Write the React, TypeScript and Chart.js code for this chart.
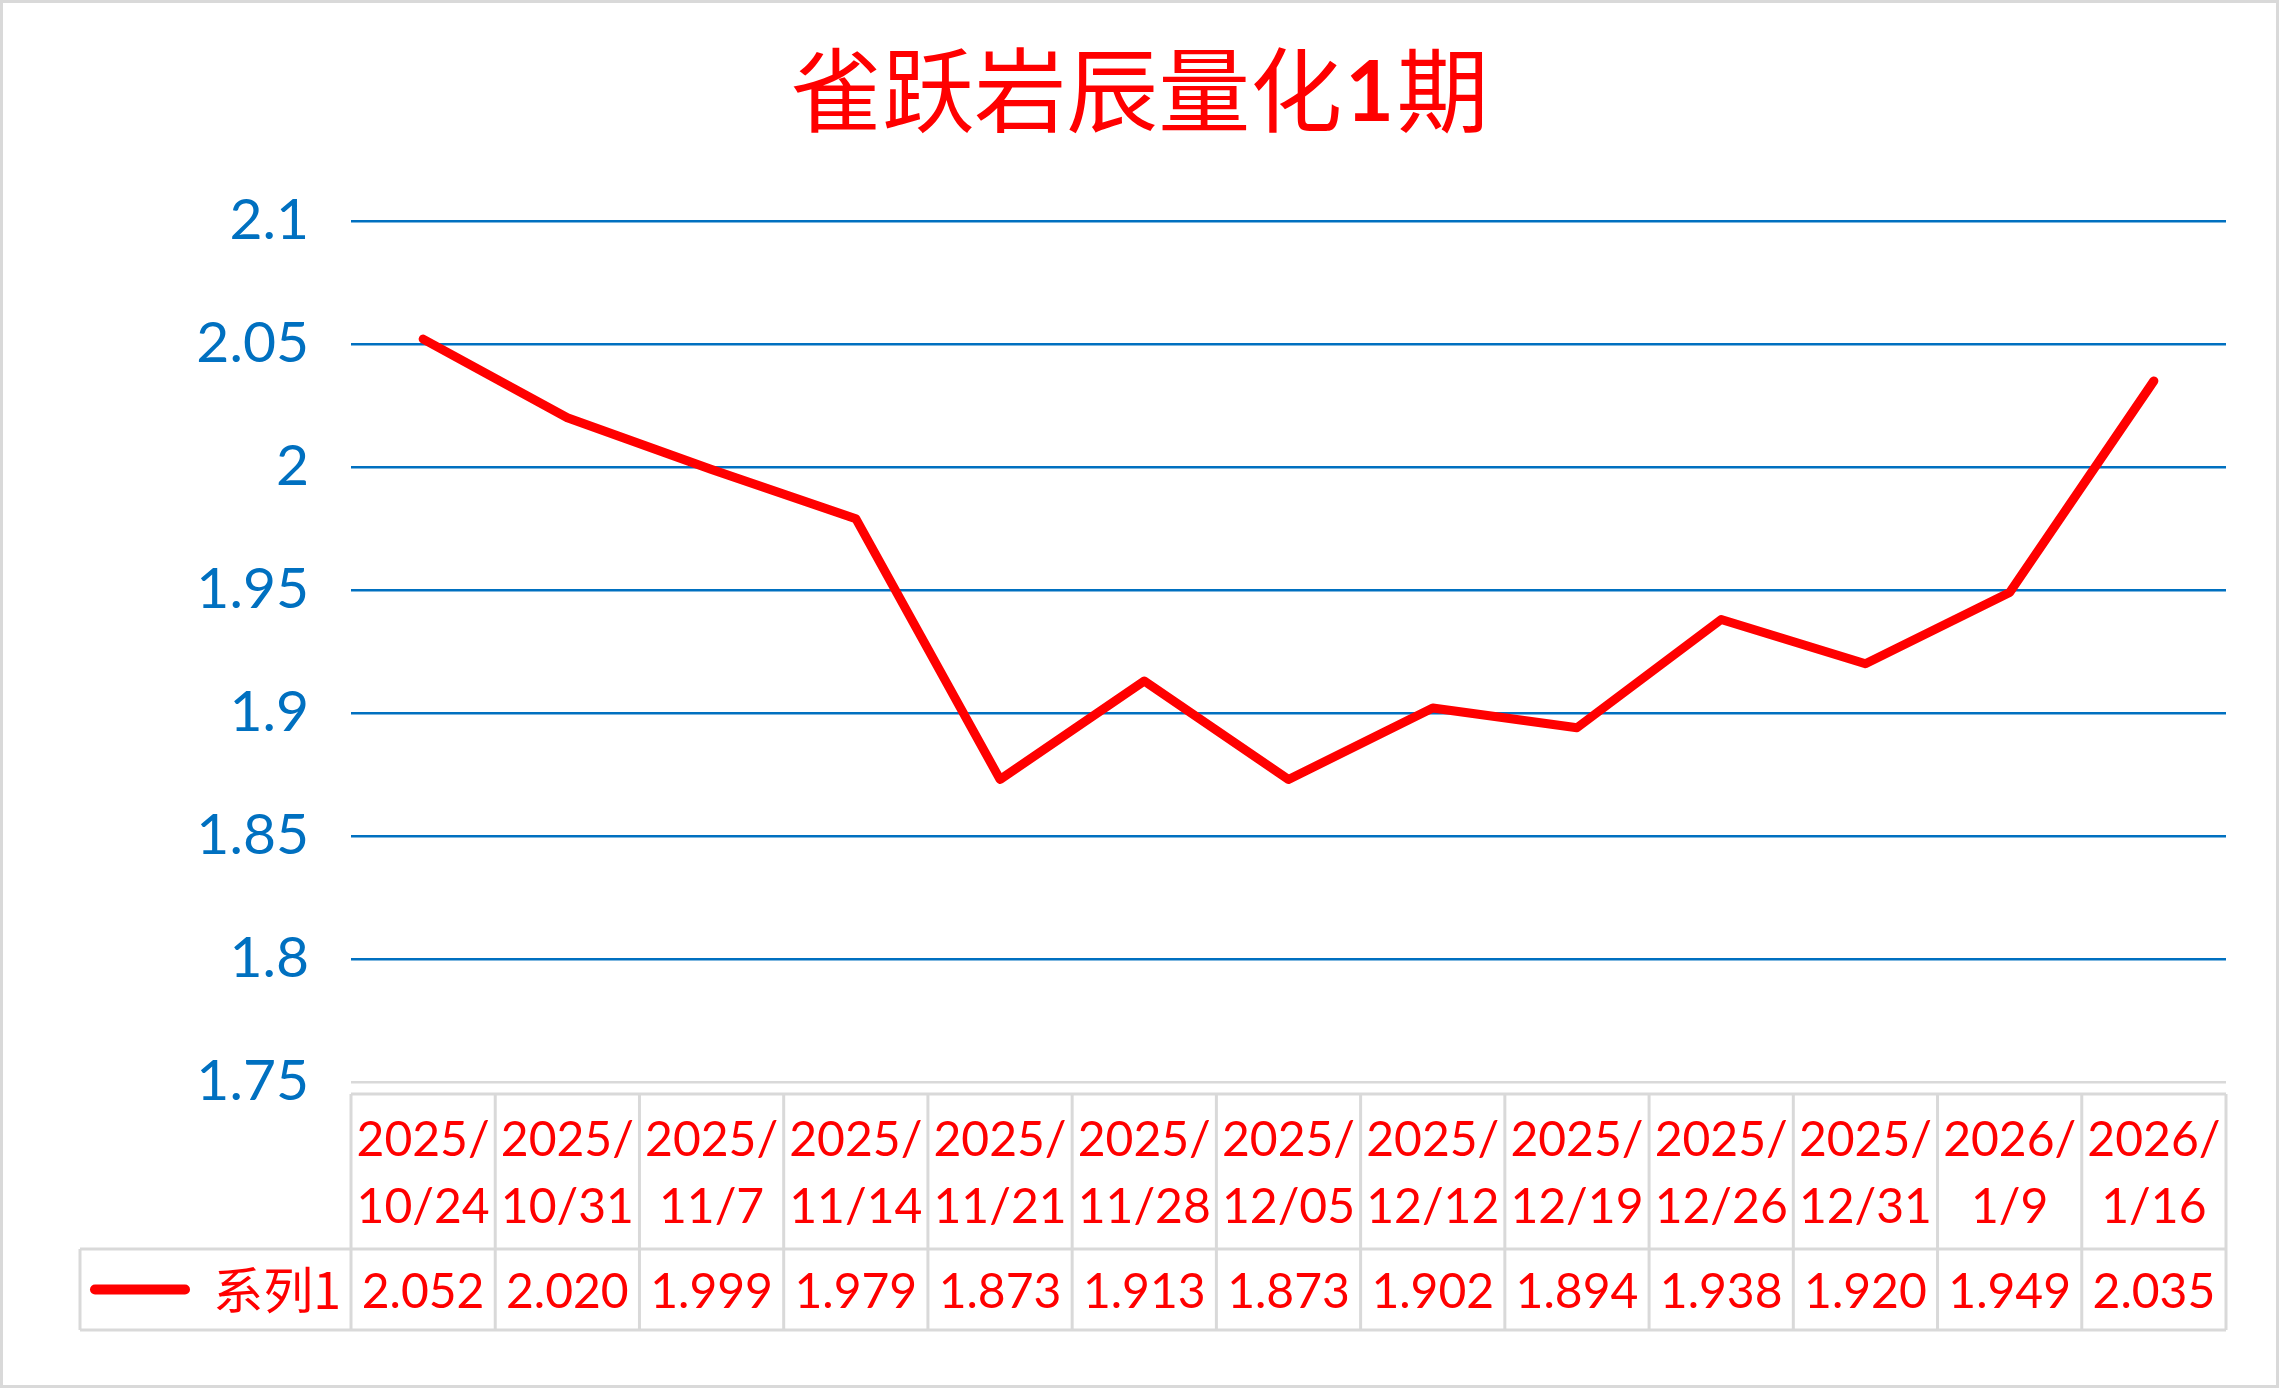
import React, { useEffect, useRef } from "react";
import { Chart, registerables } from "chart.js";

Chart.register(...registerables);

// ---------- data ----------
const TITLE_MAIN = "雀跃岩辰量化";
const TITLE_NUM = "1";
const TITLE_TAIL = "期";
const SERIES_NAME = "系列1";
const CATEGORIES = [
  "2025/10/24",
  "2025/10/31",
  "2025/11/7",
  "2025/11/14",
  "2025/11/21",
  "2025/11/28",
  "2025/12/05",
  "2025/12/12",
  "2025/12/19",
  "2025/12/26",
  "2025/12/31",
  "2026/1/9",
  "2026/1/16",
];
const VALUES = [2.052, 2.02, 1.999, 1.979, 1.873, 1.913, 1.873, 1.902, 1.894, 1.938, 1.92, 1.949, 2.035];
const Y_MIN = 1.75;
const Y_MAX = 2.1;
const Y_STEP = 0.05;

// ---------- style ----------
const W = 2279;
const H = 1388;
const RED = "#FF0000";
const BLUE = "#0070C0";
const GRAY = "#D9D9D9";
const NUM_FONT = "Lato, 'Open Sans', sans-serif";
const CJK_FONT = "'Noto Sans CJK SC', sans-serif";

const splitLabel = (s: string) => {
  const i = s.indexOf("/");
  return [s.slice(0, i + 1), s.slice(i + 1)];
};

const tablePlugin = {
  id: "excelTable",
  beforeDraw(chart: any) {
    const ctx = chart.ctx;
    ctx.save();
    ctx.fillStyle = "#FFFFFF";
    ctx.fillRect(0, 0, chart.width, chart.height);
    ctx.restore();
  },
  afterDraw(chart: any) {
    const ctx = chart.ctx;
    const area = chart.chartArea;
    const xs = chart.scales.x;
    const n = CATEGORIES.length;
    const cw = (area.right - area.left) / n;
    const top = area.bottom + 12;
    const mid = top + 155;
    const bot = mid + 81;
    const legendLeft = 80;

    ctx.save();
    // outer frame
    ctx.strokeStyle = GRAY;
    ctx.lineWidth = 3;
    ctx.strokeRect(1.5, 1.5, chart.width - 3, chart.height - 3);

    // table grid
    ctx.beginPath();
    ctx.moveTo(area.left, top);
    ctx.lineTo(area.right, top);
    ctx.moveTo(legendLeft, mid);
    ctx.lineTo(area.right, mid);
    ctx.moveTo(legendLeft, bot);
    ctx.lineTo(area.right, bot);
    ctx.moveTo(legendLeft, mid);
    ctx.lineTo(legendLeft, bot);
    for (let i = 0; i <= n; i++) {
      const px = area.left + i * cw;
      ctx.moveTo(px, top);
      ctx.lineTo(px, bot);
    }
    ctx.stroke();

    // values row
    ctx.fillStyle = RED;
    ctx.textAlign = "center";
    ctx.textBaseline = "middle";
    ctx.font = `48px ${NUM_FONT}`;
    const rowY = (mid + bot) / 2;
    VALUES.forEach((v, i) => {
      ctx.fillText(v.toFixed(3), xs.getPixelForValue(i), rowY + 3);
    });

    // legend key
    ctx.strokeStyle = RED;
    ctx.lineWidth = 10;
    ctx.lineCap = "round";
    ctx.beginPath();
    ctx.moveTo(95, rowY);
    ctx.lineTo(185, rowY);
    ctx.stroke();
    ctx.textAlign = "right";
    ctx.font = `50px ${CJK_FONT}`;
    ctx.fillText(SERIES_NAME, area.left - 10, rowY);

    // title
    const cx = chart.width / 2;
    const ty = 90;
    const fMain = `92px ${CJK_FONT}`;
    const fNum = `bold 84px ${NUM_FONT}`;
    ctx.font = fMain;
    const w1 = ctx.measureText(TITLE_MAIN).width;
    const w3 = ctx.measureText(TITLE_TAIL).width;
    ctx.font = fNum;
    const w2 = ctx.measureText(TITLE_NUM).width + 6;
    let sx = cx - (w1 + w2 + w3) / 2;
    ctx.textAlign = "left";
    ctx.textBaseline = "middle";
    ctx.font = fMain;
    ctx.fillText(TITLE_MAIN, sx, ty);
    sx += w1;
    ctx.font = fNum;
    ctx.fillText(TITLE_NUM, sx + 3, ty + 4);
    sx += w2;
    ctx.font = fMain;
    ctx.fillText(TITLE_TAIL, sx, ty);
    ctx.restore();
  },
};

export default function App() {
  const ref = useRef<HTMLCanvasElement | null>(null);

  useEffect(() => {
    document.body.style.margin = "0";
    document.body.style.overflow = "hidden";
    const canvas = ref.current;
    if (!canvas) return;
    const chart = new Chart(canvas, {
      type: "line",
      data: {
        labels: CATEGORIES.map(splitLabel),
        datasets: [
          {
            label: SERIES_NAME,
            data: VALUES,
            borderColor: RED,
            backgroundColor: RED,
            borderWidth: 9,
            pointRadius: 0,
            pointHoverRadius: 0,
            tension: 0,
            borderCapStyle: "round",
            borderJoinStyle: "round",
            fill: false,
          },
        ],
      },
      options: {
        responsive: false,
        animation: false,
        devicePixelRatio: 1,
        layout: { padding: { top: 221, left: 0, right: 53, bottom: 0 } },
        plugins: {
          legend: { display: false },
          title: { display: false },
          tooltip: { enabled: false },
        },
        scales: {
          x: {
            type: "category",
            offset: true,
            grid: { display: false, drawTicks: false },
            border: { display: false },
            ticks: {
              autoSkip: false,
              maxRotation: 0,
              minRotation: 0,
              padding: 25,
              color: RED,
              font: { family: NUM_FONT, size: 48, lineHeight: 1.4 },
            },
            afterFit: (s: any) => {
              s.height = 306;
            },
          },
          y: {
            min: Y_MIN,
            max: Y_MAX,
            grid: {
              drawTicks: false,
              lineWidth: 2.5,
              color: (c: any) => (c.tick && Math.abs(c.tick.value - Y_MIN) < 1e-9 ? GRAY : BLUE),
            },
            border: { display: false },
            ticks: {
              stepSize: Y_STEP,
              padding: 42,
              color: BLUE,
              font: { family: NUM_FONT, size: 57 },
              callback: (v: any) => String(Number(Number(v).toFixed(2))),
            },
            afterFit: (s: any) => {
              s.width = 351;
            },
          },
        },
      },
      plugins: [tablePlugin],
    } as any);
    return () => chart.destroy();
  }, []);

  return (
    <div style={{ position: "absolute", left: 0, top: 0, width: W, height: H }}>
      <canvas ref={ref} width={W} height={H} style={{ width: W, height: H, display: "block" }} />
    </div>
  );
}
